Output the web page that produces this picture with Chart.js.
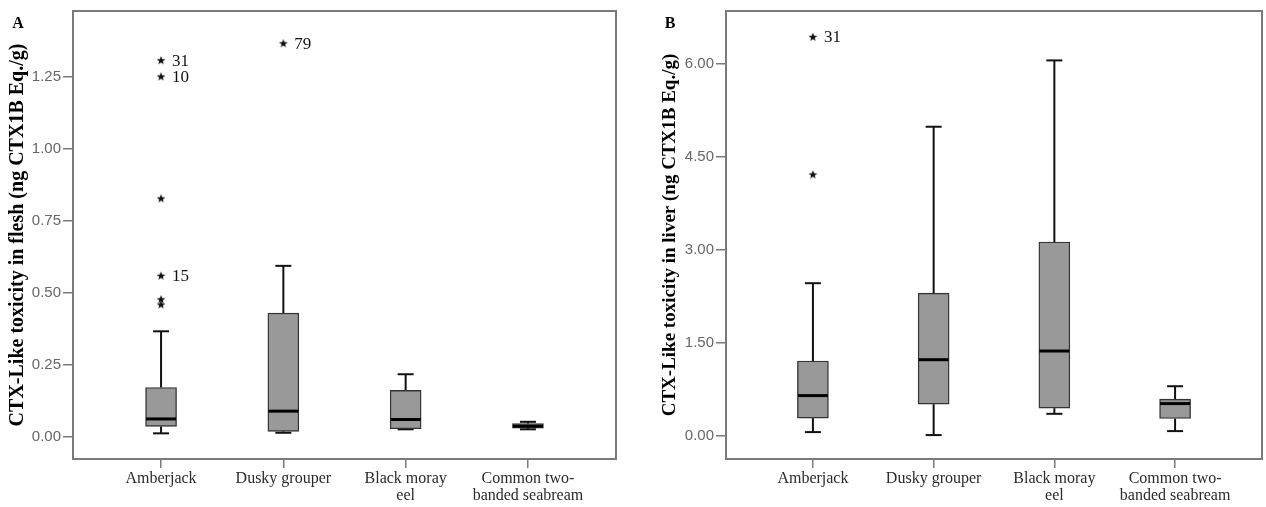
<!DOCTYPE html>
<html>
<head>
<meta charset="utf-8">
<script src="https://cdn.jsdelivr.net/npm/chart.js@4.4.1/dist/chart.umd.min.js"></script>
<style>
    html, body { margin: 0; padding: 0; background: #fff; overflow: hidden; }
    #wrapA { position: absolute; left: 0; top: 0; width: 640px; height: 507px; }
    #wrapB { position: absolute; left: 640px; top: 0; width: 628px; height: 507px; }
</style>
</head>
<body>
<div id="wrapA"><canvas id="chartA"></canvas></div>
<div id="wrapB"><canvas id="chartB"></canvas></div>
<script>

// categories (one label line per array item)
let species = [
    ["Amberjack"],
    ["Dusky grouper"],
    ["Black moray", "eel"],
    ["Common two-", "banded seabream"]
];
let speciesPos = [1, 2, 3, 4];

// Panel A - flesh
let fleshMin = [0.012, 0.014, 0.026, 0.026];
let fleshQ1 = [0.036, 0.019, 0.028, 0.030];
let fleshMedian = [0.062, 0.089, 0.060, 0.037];
let fleshQ3 = [0.171, 0.429, 0.161, 0.046];
let fleshMax = [0.366, 0.593, 0.217, 0.052];
let fleshOutX = [1, 1, 1, 1, 1, 1, 2];
let fleshOutY = [1.306, 1.250, 0.827, 0.559, 0.477, 0.459, 1.365];
let fleshOutLabel = ["31", "10", "", "15", "", "", "79"];
let fleshTicks = [0, 0.25, 0.5, 0.75, 1.0, 1.25];

// Panel B - liver
let liverMin = [0.064, 0.016, 0.359, 0.080];
let liverQ1 = [0.290, 0.515, 0.450, 0.283];
let liverMedian = [0.653, 1.232, 1.372, 0.524];
let liverQ3 = [1.211, 2.305, 3.130, 0.595];
let liverMax = [2.466, 4.990, 6.060, 0.804];
let liverOutX = [1, 1];
let liverOutY = [6.44, 4.22];
let liverOutLabel = ["31", ""];
let liverTicks = [0, 1.5, 3.0, 4.5, 6.0];

/* small filled star used for outliers */
function makeStar() {
    let c = document.createElement("canvas");
    c.width = 10;
    c.height = 10;
    let g = c.getContext("2d");
    g.fillStyle = "#111";
    g.beginPath();
    for (let i = 0; i < 10; i++) {
        let r = i % 2 === 0 ? 4.6 : 1.9;
        let a = -Math.PI / 2 + i * Math.PI / 5;
        let px = 5 + r * Math.cos(a);
        let py = 5.4 + r * Math.sin(a);
        if (i === 0) g.moveTo(px, py); else g.lineTo(px, py);
    }
    g.closePath();
    g.fill();
    return c;
}
let starImg = makeStar();

/* whiskers, medians, frame, outlier numbers, panel letter */
let boxExtras = {
    id: "boxExtras",
    beforeDatasetsDraw(chart) {
        let b = chart.options.plugins.boxExtras;
        let ctx = chart.ctx;
        let x = chart.scales.x;
        let y = chart.scales.y;
        ctx.save();
        ctx.strokeStyle = "#111";
        ctx.lineWidth = 2;
        for (let i = 0; i < speciesPos.length; i++) {
            let px = x.getPixelForValue(speciesPos[i]);
            let segs = [[b.q3[i], b.max[i]], [b.q1[i], b.min[i]]];
            segs.forEach(s => {
                ctx.beginPath();
                ctx.moveTo(px, y.getPixelForValue(s[0]));
                ctx.lineTo(px, y.getPixelForValue(s[1]));
                ctx.stroke();
                ctx.beginPath();
                ctx.moveTo(px - 8, y.getPixelForValue(s[1]));
                ctx.lineTo(px + 8, y.getPixelForValue(s[1]));
                ctx.stroke();
            });
        }
        ctx.restore();
    },
    afterDatasetsDraw(chart) {
        let b = chart.options.plugins.boxExtras;
        let ctx = chart.ctx;
        let x = chart.scales.x;
        let y = chart.scales.y;
        ctx.save();
        ctx.strokeStyle = "#000";
        ctx.lineWidth = 3;
        for (let i = 0; i < speciesPos.length; i++) {
            let px = x.getPixelForValue(speciesPos[i]);
            let py = y.getPixelForValue(b.median[i]);
            ctx.beginPath();
            ctx.moveTo(px - 15, py);
            ctx.lineTo(px + 15, py);
            ctx.stroke();
        }
        // outlier case numbers
        ctx.fillStyle = "#111";
        ctx.font = "17px 'Liberation Serif'";
        ctx.textBaseline = "middle";
        for (let i = 0; i < b.outX.length; i++) {
            if (b.outLabel[i] === "") continue;
            ctx.fillText(b.outLabel[i],
                x.getPixelForValue(b.outX[i]) + 11,
                y.getPixelForValue(b.outY[i]) + 1);
        }
        ctx.restore();
    },
    afterDraw(chart) {
        let b = chart.options.plugins.boxExtras;
        let ctx = chart.ctx;
        let a = chart.chartArea;
        ctx.save();
        ctx.strokeStyle = "#7a7a7a";
        ctx.lineWidth = 2;
        ctx.strokeRect(a.left, a.top, a.right - a.left, a.bottom - a.top);
        ctx.fillStyle = "#000";
        ctx.font = "bold 16px 'Liberation Serif'";
        ctx.textAlign = "center";
        ctx.textBaseline = "middle";
        ctx.fillText(b.letter, b.letterX, 24);
        ctx.restore();
    }
};

function drawPanel(canvasId, p) {

    let ctx = document.getElementById(canvasId).getContext("2d");

    return new Chart(ctx, {
        type: "bar",
        data: {
            datasets: [
                {
                    type: "bar",
                    data: speciesPos.map((v, i) => ({ x: v, y: [p.q1[i], p.q3[i]] })),
                    backgroundColor: "#999999",
                    borderColor: "#333333",
                    borderWidth: 1.4,
                    borderSkipped: false,
                    barThickness: 31,
                    order: 2
                },
                {
                    type: "scatter",
                    data: p.outX.map((v, i) => ({ x: v, y: p.outY[i] })),
                    pointStyle: starImg,
                    pointRadius: 5,
                    order: 1
                }
            ]
        },
        options: {
            responsive: true,
            maintainAspectRatio: false,
            animation: false,
            layout: {
                padding: { top: 10, right: p.padRight, left: 0, bottom: 0 }
            },
            plugins: {
                legend: { display: false },
                tooltip: { enabled: false },
                boxExtras: p
            },
            scales: {
                x: {
                    type: "linear",
                    min: 0.28,
                    max: 4.72,
                    offset: false,
                    afterBuildTicks: s => { s.ticks = speciesPos.map(v => ({ value: v })); },
                    afterFit: s => { s.height = 48; },
                    ticks: {
                        autoSkip: false,
                        maxRotation: 0,
                        padding: 2,
                        color: "#2a2a2a",
                        font: { family: "'Liberation Serif'", size: 16, lineHeight: 1.08 },
                        callback: (v, i) => species[i]
                    },
                    grid: {
                        offset: false,
                        drawOnChartArea: false,
                        drawTicks: true,
                        tickLength: 9,
                        color: "#7a7a7a",
                        lineWidth: 1.5
                    },
                    border: { display: false }
                },
                y: {
                    min: p.yMin,
                    max: p.yMax,
                    afterBuildTicks: s => { s.ticks = p.ticks.map(v => ({ value: v })); },
                    afterFit: s => { s.width = p.axisWidth; },
                    ticks: {
                        padding: 2,
                        color: "#666666",
                        font: { family: "'Liberation Sans'", size: 15 },
                        callback: v => Number(v).toFixed(2)
                    },
                    grid: {
                        drawOnChartArea: false,
                        drawTicks: true,
                        tickLength: 10,
                        color: "#7a7a7a",
                        lineWidth: 1.5
                    },
                    border: { display: false },
                    title: {
                        display: true,
                        text: p.title,
                        color: "#000",
                        padding: { top: p.titlePad, bottom: 0 },
                        font: { family: "'Liberation Serif'", size: p.titleSize, weight: "bold" }
                    }
                }
            }
        },
        plugins: [boxExtras]
    });
}

drawPanel("chartA", {
    min: fleshMin, q1: fleshQ1, median: fleshMedian, q3: fleshQ3, max: fleshMax,
    outX: fleshOutX, outY: fleshOutY, outLabel: fleshOutLabel,
    ticks: fleshTicks, yMin: -0.077, yMax: 1.477,
    title: "CTX-Like toxicity in flesh (ng CTX1B Eq./g)",
    axisWidth: 73, titlePad: 6, titleSize: 20, padRight: 24,
    letter: "A", letterX: 18
});

drawPanel("chartB", {
    min: liverMin, q1: liverQ1, median: liverMedian, q3: liverQ3, max: liverMax,
    outX: liverOutX, outY: liverOutY, outLabel: liverOutLabel,
    ticks: liverTicks, yMin: -0.37, yMax: 6.857,
    title: "CTX-Like toxicity in liver (ng CTX1B Eq./g)",
    axisWidth: 86, titlePad: 19, titleSize: 19, padRight: 0,
    letter: "B", letterX: 30
});

</script>
</body>
</html>
